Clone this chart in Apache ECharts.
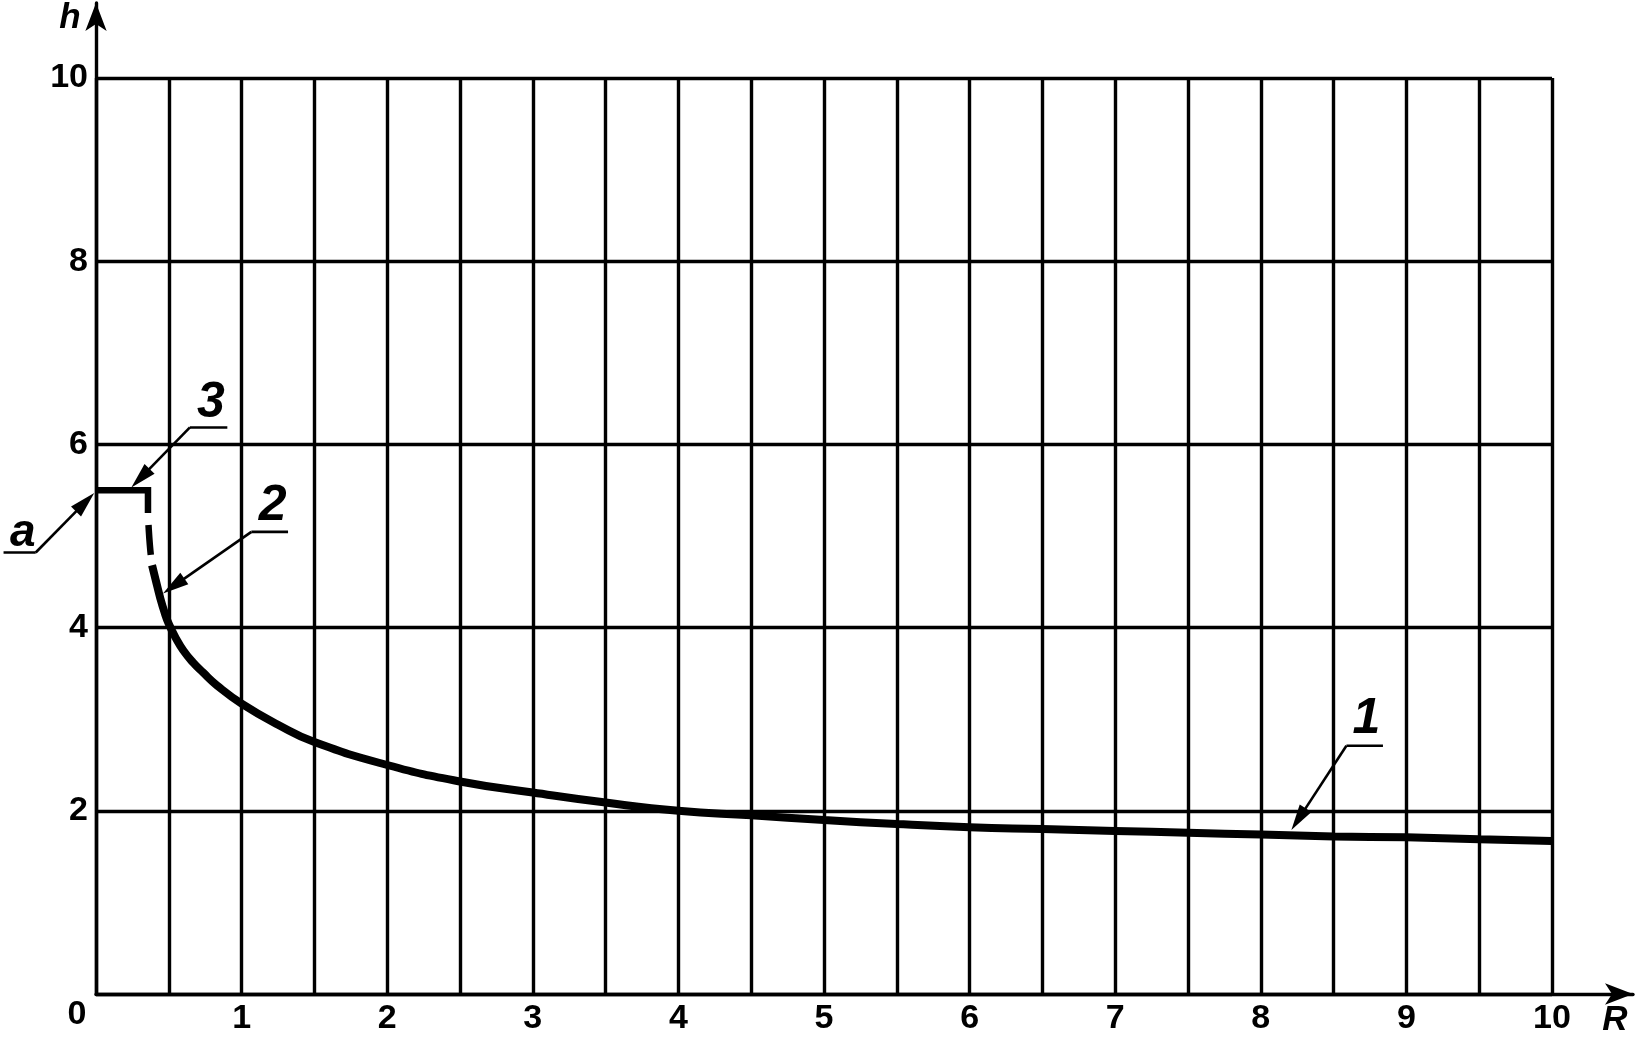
<!DOCTYPE html>
<html><head><meta charset="utf-8">
<script src="https://cdn.jsdelivr.net/npm/echarts@6/dist/echarts.min.js"></script>
<style>html,body{margin:0;padding:0;background:#fff}#c{width:1639px;height:1039px}</style>
</head><body><div id="c"></div>
<script>
// ---- data ----
const curve1R = [0.385, 0.41, 0.44, 0.47, 0.50, 0.55, 0.60, 0.666, 0.735, 0.83, 1.0, 1.25, 1.5, 2.0, 2.5, 3.0, 3.5, 4.0, 4.5, 5.0, 5.5, 6.0, 6.5, 7.0, 7.5, 8.0, 8.5, 9.0, 9.5, 10.0];
const curve1H = [4.68, 4.52, 4.33, 4.17, 4.04, 3.88, 3.75, 3.62, 3.51, 3.37, 3.17, 2.94, 2.75, 2.50, 2.32, 2.20, 2.09, 2.00, 1.95, 1.90, 1.855, 1.82, 1.80, 1.78, 1.76, 1.74, 1.72, 1.71, 1.69, 1.67];
const curve2R = [0.357, 0.362, 0.370, 0.380, 0.385];
const curve2H = [5.25, 5.08, 4.90, 4.74, 4.68];
const curve3R = [0, 0.357, 0.357];
const curve3H = [5.50, 5.50, 5.25];
const xTickLabels = ['1','2','3','4','5','6','7','8','9','10'];
const yTickLabels = ['2','4','6','8','10'];
// annotations (data coordinates)
const annoText = ['a', '3', '2', '1'];
const annoLabelPos = [[-0.503, 5.033], [0.789, 6.453], [1.214, 5.326], [8.725, 2.998]];
const annoShelfA = [[-0.635, 4.82], [0.645, 6.185], [1.067, 5.045], [8.588, 2.71]];
const annoShelfB = [[-0.414, 4.82], [0.902, 6.185], [1.319, 5.045], [8.839, 2.71]];
const annoJoint = [[-0.414, 4.82], [0.645, 6.185], [1.067, 5.045], [8.588, 2.71]];
const annoTip = [[-0.012, 5.47], [0.243, 5.53], [0.46, 4.373], [8.21, 1.79]];

const zip = (a, b) => a.map((v, i) => [v, b[i]]);
const FONT = '"Liberation Sans", Arial, sans-serif';
const chart = echarts.init(document.getElementById('c'));
const gridLine = { show: true, lineStyle: { color: '#000', width: 3.4 } };
const tickFont = { fontSize: 34, fontWeight: 'bold', color: '#000', fontFamily: FONT };

chart.setOption({
  animation: false,
  backgroundColor: '#fff',
  grid: [
    { left: 96, right: 87, top: 78, bottom: 45 },
    { left: 96, right: 6, top: 3, bottom: 45 }
  ],
  xAxis: [
    { type: 'value', gridIndex: 0, min: 0, max: 10, interval: 0.5,
      axisLine: { show: false }, axisTick: { show: false }, splitLine: gridLine,
      axisLabel: Object.assign({ margin: 8,
        formatter: v => { const i = xTickLabels.indexOf(String(v)); return i >= 0 ? xTickLabels[i] : ''; } }, tickFont) },
    { type: 'value', gridIndex: 1, min: 0, max: 1,
      axisLine: { show: true, symbol: ['none', 'arrow'], symbolSize: [16, 28], lineStyle: { color: '#000', width: 3.4 } },
      axisTick: { show: false }, splitLine: { show: false }, axisLabel: { show: false } }
  ],
  yAxis: [
    { type: 'value', gridIndex: 0, min: 0, max: 10, interval: 2,
      axisLine: { show: false }, axisTick: { show: false }, splitLine: gridLine,
      axisLabel: Object.assign({ margin: 8,
        formatter: v => { const i = yTickLabels.indexOf(String(v)); return i >= 0 ? yTickLabels[i] : ''; } }, tickFont) },
    { type: 'value', gridIndex: 1, min: 0, max: 1,
      axisLine: { show: true, symbol: ['none', 'arrow'], symbolSize: [16, 28], lineStyle: { color: '#000', width: 3.4 } },
      axisTick: { show: false }, splitLine: { show: false }, axisLabel: { show: false } }
  ],
  series: [
    { type: 'line', name: '1', xAxisIndex: 0, yAxisIndex: 0, data: zip(curve1R, curve1H),
      smooth: 0.5, symbol: 'none', clip: false,
      lineStyle: { color: '#000', width: 8, cap: 'butt' } },
    { type: 'line', name: '2', xAxisIndex: 0, yAxisIndex: 0, data: zip(curve2R, curve2H),
      smooth: true, symbol: 'none', clip: false,
      lineStyle: { color: '#000', width: 6.5, type: [30, 12], dashOffset: 30, cap: 'butt' } },
    { type: 'line', name: '3', xAxisIndex: 0, yAxisIndex: 0, data: zip(curve3R, curve3H),
      symbol: 'none', clip: false,
      lineStyle: { color: '#000', width: 6.5, cap: 'butt', join: 'miter' } }
  ]
});

function buildGraphics() {
  const P = p => chart.convertToPixel({ gridIndex: 0 }, p);
  const els = [];
  for (let i = 0; i < annoText.length; i++) {
    const a = P(annoShelfA[i]), b = P(annoShelfB[i]), j = P(annoJoint[i]), t = P(annoTip[i]), l = P(annoLabelPos[i]);
    els.push({ type: 'line', shape: { x1: a[0], y1: a[1], x2: b[0], y2: b[1] }, style: { stroke: '#000', lineWidth: 2.6 } });
    const dx = t[0] - j[0], dy = t[1] - j[1], len = Math.hypot(dx, dy);
    const ux = dx / len, uy = dy / len, nx = -uy, ny = ux;
    const L = 26, W = 7;
    const bx = t[0] - ux * L, by = t[1] - uy * L;
    els.push({ type: 'line', shape: { x1: j[0], y1: j[1], x2: bx + ux * 4, y2: by + uy * 4 }, style: { stroke: '#000', lineWidth: 2.6 } });
    els.push({ type: 'polygon', shape: { points: [[t[0], t[1]], [bx + nx * W, by + ny * W], [bx - nx * W, by - ny * W]] }, style: { fill: '#000' } });
    els.push({ type: 'text', x: l[0], y: l[1], style: { text: annoText[i], fill: '#000',
      font: 'italic bold ' + (annoText[i] === 'a' ? 46 : 50) + 'px ' + FONT, align: 'center', verticalAlign: 'middle' } });
  }
  const o = P([0, 0]);
  els.push({ type: 'text', x: o[0] - 19, y: o[1] + 21, style: { text: '0', fill: '#000', font: 'bold 34px ' + FONT, align: 'center', verticalAlign: 'middle' } });
  els.push({ type: 'text', x: o[0] - 26, y: 18, style: { text: 'h', fill: '#000', font: 'italic bold 35px ' + FONT, align: 'center', verticalAlign: 'middle' } });
  els.push({ type: 'text', x: 1615, y: o[1] + 26, style: { text: 'R', fill: '#000', font: 'italic bold 35px ' + FONT, align: 'center', verticalAlign: 'middle' } });
  chart.setOption({ graphic: els });
}
buildGraphics();
</script>
</body></html>
